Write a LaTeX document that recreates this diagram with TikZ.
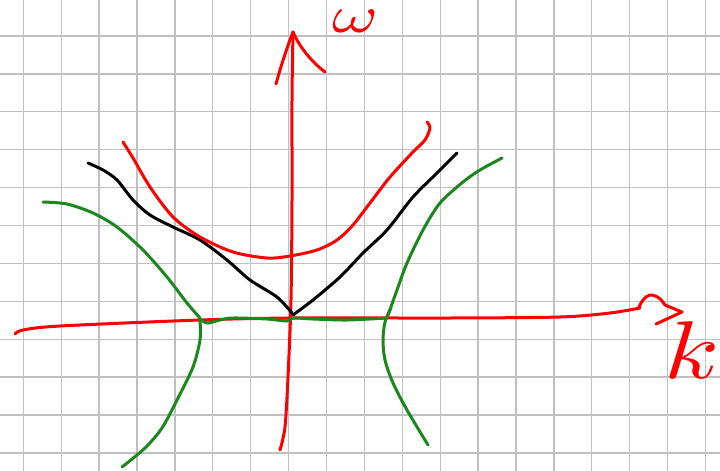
\documentclass[tikz,border=0pt]{standalone}
\definecolor{pengreen}{RGB}{28,135,28}
\definecolor{penred}{RGB}{255,0,0}
\definecolor{gridgray}{RGB}{192,192,192}
\begin{document}
\begin{tikzpicture}[x=1pt,y=-1pt,
  pen/.style={line width=3pt, line cap=round, line join=round},
  gridline/.style={draw=gridgray, line width=1.3pt},
  lbl/.style={text=penred, inner sep=0pt}]
\useasboundingbox (0,0) rectangle (720,471);
\fill[white] (0,0) rectangle (720,471);
% grid
\foreach \i in {0,...,18} \draw[gridline] ({23.3+37.9*\i},0) -- ({23.3+37.9*\i},471);
\foreach \j in {0,...,11} \draw[gridline] (0,{36+37.9*\j}) -- (720,{36+37.9*\j});
% k axis
\draw[pen, penred] plot[smooth, tension=0.5] coordinates {(15,334) (23,330) (60,326) (200,320) (293,318) (450,318) (560,317) (610,313) (640,308)};
\draw[pen, penred] plot[smooth, tension=0.6] coordinates {(638,309) (643,300) (650,295) (659,298) (665,305)} -- (682,312) -- (656,324);
% omega axis
\draw[pen, penred] plot[smooth, tension=0.5] coordinates {(280,450) (285,427) (288,377) (291,300) (292,200) (292,100) (293,32)};
\draw[pen, penred] (276,84) .. controls (282,62) and (288,45) .. (293,32);
\draw[pen, penred] (293,32) .. controls (300,48) and (312,62) .. (325,72);
% labels
\node[lbl] (omega) at (356,21) {\scalebox{7}[5.2]{$\omega$}};
\node[lbl] (k) at (692,350) {\scalebox{10}[8.2]{$k$}};
% green curves
\draw[pen, pengreen] plot[smooth] coordinates {(43,202) (67,204) (93,213) (117,227) (143,250) (167,277) (187,303) (200,318)};
\draw[pen, pengreen] plot[smooth, tension=0.5] coordinates {(199,318) (207,323) (220,320) (233,318) (267,319) (287,321) (293,318) (313,319) (347,320) (387,318)};
\draw[pen, pengreen] plot[smooth] coordinates {(387,318) (397,290) (407,263) (423,230) (440,203) (463,182) (480,170) (502,158)};
\draw[pen, pengreen] plot[smooth] coordinates {(200,320) (200,340) (193,367) (177,400) (162,428) (145,448) (122,467)};
\draw[pen, pengreen] plot[smooth] coordinates {(391,308) (385,322) (383,340) (385,360) (393,383) (407,410) (428,445)};
% black curves
\draw[pen, black] plot[smooth] coordinates {(88,163) (103,170) (117,180) (133,200) (150,215) (173,227) (200,240) (227,260) (250,280) (277,297) (292,313)};
\draw[pen, black] plot[smooth] coordinates {(293,315) (313,300) (340,277) (363,253) (387,230) (413,197) (437,173) (457,153)};
% red parabola
\draw[pen, penred] plot[smooth] coordinates {(123,142) (133,158) (150,187) (173,217) (200,237) (233,252) (267,258) (290,256) (317,250) (337,240) (353,225) (370,203) (390,177) (413,152) (425,140) (430,128) (427,122)};
\end{tikzpicture}
\end{document}
